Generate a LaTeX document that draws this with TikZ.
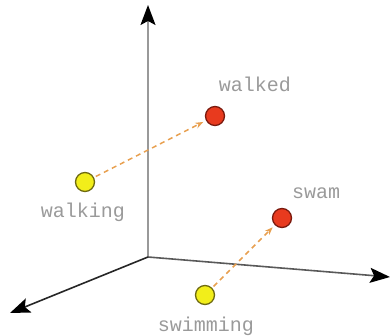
\documentclass[tikz,border=0pt]{standalone}
\usepackage{fontspec}
\setmonofont{Liberation Mono}
\usetikzlibrary{arrows.meta}
\definecolor{yel}{HTML}{F2EE1A}
\definecolor{yelb}{HTML}{6E6A10}
\definecolor{redf}{HTML}{E83A1E}
\definecolor{redb}{HTML}{7A1A0E}
\definecolor{arr}{HTML}{E8A050}
\definecolor{lbl}{HTML}{9A9A9A}
\tikzset{
  axis/.style={line width=1.6pt, draw=black!70, -{Stealth[length=20pt,width=15pt,inset=4pt,color=black]}},
  yelpt/.style={circle, fill=yel, draw=yelb, line width=1.3pt, minimum size=19pt, inner sep=0pt},
  redpt/.style={circle, fill=redf, draw=redb, line width=1.3pt, minimum size=19pt, inner sep=0pt},
  word/.style={font=\ttfamily\fontsize{20}{22}\selectfont, text=lbl, inner sep=0pt},
  movearrow/.style={draw=arr, line width=1.5pt, dash pattern=on 5pt off 4pt, -{Stealth[length=8pt,width=6pt]}, shorten <=2pt, shorten >=3pt}
}
\begin{document}
\begin{tikzpicture}[x=1pt,y=-1pt]
\useasboundingbox (0,0) rectangle (390,336);
\coordinate (o) at (148,257);
\coordinate (up) at (148,5);
\coordinate (rt) at (390,277);
\coordinate (lf) at (10,313);
\draw[axis, draw=black!40] (o) -- (up);
\draw[axis, draw=black!65] (o) -- (rt);
\draw[axis, draw=black!85] (o) -- (lf);
\node[yelpt] (walking) at (85,182) {};
\node[redpt] (walked) at (215,116) {};
\node[redpt] (swam) at (282,218) {};
\node[yelpt] (swimming) at (205,295) {};
\draw[movearrow] (walking) -- (walked);
\draw[movearrow] (swimming) -- (swam);
\node[word] (lwalked) at (255,84) {walked};
\node[word] (lwalking) at (83,212) {walking};
\node[word] (lswam) at (316,193) {swam};
\node[word] (lswimming) at (206,326) {swimming};
\end{tikzpicture}
\end{document}
